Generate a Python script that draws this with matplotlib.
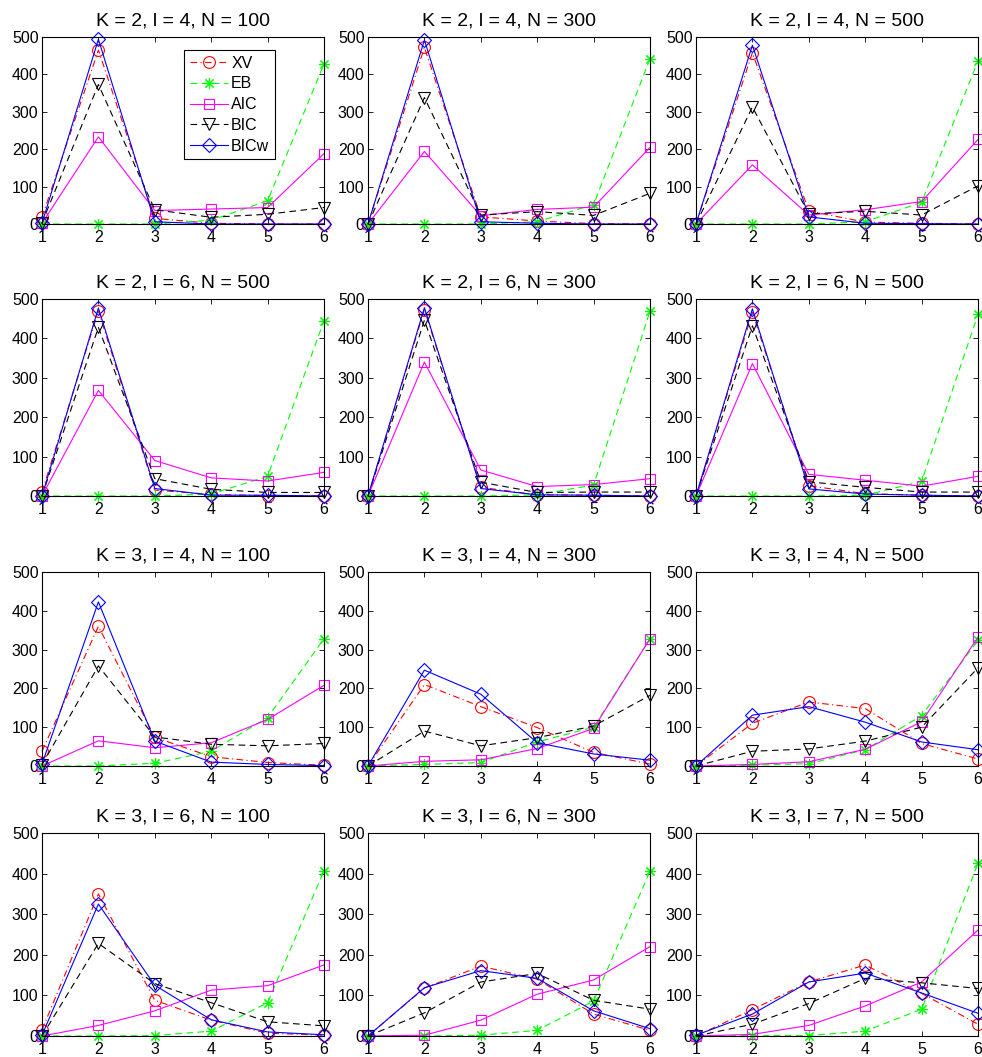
import numpy as np
import matplotlib.pyplot as plt

plt.rcParams['font.family'] = ['Liberation Sans', 'DejaVu Sans']

# --- data: number of times each model order (1..6) was chosen ---
orders = [1, 2, 3, 4, 5, 6]

titles = ["K = 2, l = 4, N = 100", "K = 2, l = 4, N = 300", "K = 2, l = 4, N = 500",
          "K = 2, l = 6, N = 500", "K = 2, l = 6, N = 300", "K = 2, l = 6, N = 500",
          "K = 3, l = 4, N = 100", "K = 3, l = 4, N = 300", "K = 3, l = 4, N = 500",
          "K = 3, l = 6, N = 100", "K = 3, l = 6, N = 300", "K = 3, l = 7, N = 500"]

xv = [[18, 465, 15, 2, 0, 0], [0, 472, 19, 8, 1, 0], [0, 458, 35, 5, 2, 0],
      [10, 470, 15, 4, 1, 0], [0, 473, 22, 3, 2, 0], [0, 466, 26, 6, 2, 0],
      [38, 360, 74, 24, 9, 2], [0, 210, 153, 99, 35, 5], [0, 110, 165, 148, 58, 18],
      [15, 350, 88, 39, 7, 2], [0, 118, 172, 140, 54, 14], [0, 65, 133, 175, 105, 29]]

eb = [[0, 0, 0, 10, 62, 428], [0, 0, 0, 6, 52, 442], [0, 0, 0, 6, 58, 436],
      [0, 0, 0, 5, 50, 445], [0, 0, 0, 3, 28, 469], [0, 0, 0, 2, 37, 461],
      [0, 0, 7, 38, 125, 328], [0, 4, 9, 62, 100, 328], [0, 2, 6, 42, 130, 324],
      [0, 0, 1, 12, 82, 407], [0, 0, 2, 14, 86, 406], [0, 1, 1, 12, 66, 425]]

aic = [[2, 233, 36, 40, 44, 188], [0, 194, 22, 39, 45, 205], [0, 158, 24, 38, 60, 226],
       [0, 268, 90, 46, 38, 60], [0, 340, 66, 24, 29, 44], [0, 336, 55, 40, 25, 50],
       [0, 65, 47, 60, 120, 208], [0, 12, 16, 45, 97, 328], [0, 4, 11, 43, 114, 332],
       [0, 26, 62, 113, 124, 175], [0, 2, 39, 103, 138, 220], [0, 4, 26, 74, 133, 261]]

bic = [[3, 373, 38, 18, 26, 44], [0, 338, 24, 33, 23, 82], [0, 313, 27, 34, 24, 102],
       [0, 428, 44, 17, 9, 9], [0, 446, 35, 9, 10, 10], [0, 432, 36, 22, 10, 10],
       [3, 258, 75, 56, 52, 58], [0, 90, 52, 73, 103, 182], [0, 38, 44, 64, 100, 253],
       [0, 228, 129, 82, 35, 25], [0, 57, 133, 154, 88, 66], [0, 29, 80, 142, 131, 117]]

bicw = [[2, 494, 6, 0, 0, 0], [0, 492, 6, 2, 0, 0], [0, 478, 19, 2, 1, 0],
        [0, 477, 19, 2, 2, 0], [0, 478, 19, 3, 2, 0], [0, 475, 18, 5, 2, 0],
        [5, 423, 64, 10, 4, 1], [0, 247, 185, 60, 31, 15], [0, 131, 153, 113, 62, 42],
        [2, 325, 125, 40, 10, 3], [0, 119, 161, 142, 62, 18], [2, 54, 133, 155, 106, 56]]

series = [
    ('XV', xv, 'red', 'o', (0, (6, 3, 1, 3)), 8.5),
    ('EB', eb, 'lime', (8, 2, 0), (0, (6, 4)), 8),
    ('AIC', aic, 'magenta', 's', '-', 7),
    ('BIC', bic, 'black', 'v', (0, (6, 4)), 8),
    ('BICw', bicw, 'blue', 'D', '-', 7),
]

# pixel layout of the panels
W, H = 982, 1057
col_left = [42, 368, 696]
ax_w = 282
row_tb = [(37, 224), (299, 496), (572, 766), (833, 1036)]

fig = plt.figure(figsize=(W / 100, H / 100), dpi=100)

for i in range(12):
    r, c = divmod(i, 3)
    top, bot = row_tb[r]
    ax = fig.add_axes([col_left[c] / W, 1 - bot / H, ax_w / W, (bot - top) / H])
    for name, data, color, marker, ls, ms in series:
        ax.plot(orders, data[i], color=color, marker=marker, linestyle=ls,
                markersize=ms, markerfacecolor='none', markeredgewidth=0.8,
                linewidth=0.8, clip_on=False, label=name)
    ax.set_xlim(1, 6)
    ax.set_ylim(0, 500)
    ax.set_xticks(orders)
    ax.set_yticks(range(0, 501, 100))
    ax.tick_params(direction='in', top=True, right=True, length=3.5, width=0.6,
                   labelsize=11.5)
    ax.tick_params(axis='x', pad=4.5)
    ax.tick_params(axis='y', pad=2.5)
    for sp in ax.spines.values():
        sp.set_linewidth(0.8)
    ax.set_title(titles[i], fontsize=14, pad=8)
    if i == 0:
        leg = ax.legend(loc='upper left', bbox_to_anchor=(0.504, 0.93), borderaxespad=0,
                        fontsize=11.5, numpoints=1, handlelength=2.4, handletextpad=0.2,
                        labelspacing=0.36, borderpad=0.35, fancybox=False,
                        framealpha=1, edgecolor='black')
        leg.get_frame().set_linewidth(0.8)

fig.savefig('out.png', dpi=100)
